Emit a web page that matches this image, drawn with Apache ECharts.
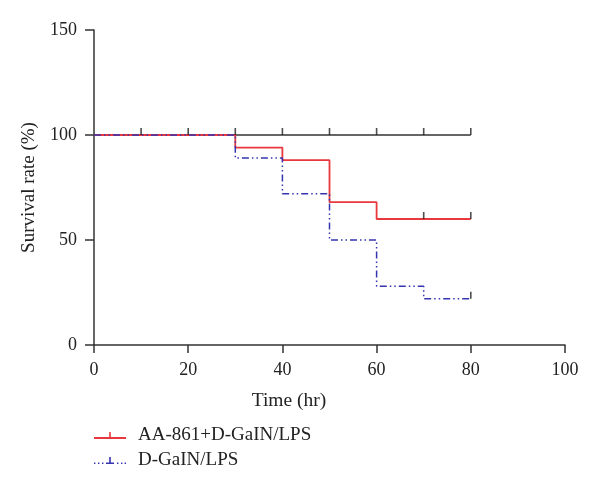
<!DOCTYPE html>
<html><head><meta charset="utf-8">
<script src="https://cdn.jsdelivr.net/npm/echarts@6/dist/echarts.min.js"></script>
<style>html,body{margin:0;padding:0;background:#fff}#c{width:600px;height:491px}</style>
</head><body><div id="c"></div>
<script>
// Data
const seriesNames = ['AA-861+D-GaIN/LPS', 'D-GaIN/LPS'];
const controlSteps = [[0,100],[80,100]];
const redSteps = [[0,100],[30,94],[40,88],[50,68],[60,60],[80,60]];
const blueSteps = [[0,100],[30,89],[40,72],[50,50],[60,28],[70,22],[80,22]];
const controlCensor = [[10,100],[20,100],[30,100],[40,100],[50,100],[60,100],[70,100],[80,100]];
const redCensor = [[70,60],[80,60]];
const blueCensor = [[80,22]];
const xTicks = [0,20,40,60,80,100];
const yTicks = [0,50,100,150];

const FONT = '"Liberation Serif", "Times New Roman", serif';
const AX = '#333';
const chart = echarts.init(document.getElementById('c'), null, {renderer:'canvas'});
const censorStyle = {type:'scatter', symbol:'rect', symbolSize:[1.6,7], symbolOffset:[0,-3.5],
  itemStyle:{color:'#222'}, silent:true, z:5};
const redIcon = 'path://M0,5h32v2h-32z M15.2,0h1.6v6h-1.6z';
const blueIcon = 'path://M0,5.4h1.4v1.6h-1.4z M4,5.4h1.4v1.6h-1.4z M8,5.4h1.4v1.6h-1.4z M12,5.4h8v1.6h-8z M15.2,0h1.6v6h-1.6z M23,5.4h1.4v1.6h-1.4z M27,5.4h1.4v1.6h-1.4z M30.6,5.4h1.4v1.6h-1.4z';
chart.setOption({
  animation:false,
  grid:{left:94, right:35, top:30, bottom:146, outerBoundsMode:'none', containLabel:false},
  xAxis:{type:'value', min:0, max:100, interval:20,
    name:'Time (hr)', nameLocation:'middle', nameGap:46,
    nameTextStyle:{fontFamily:FONT, fontSize:19.5, color:'#222', padding:[0,81,0,0]},
    axisLine:{lineStyle:{color:AX, width:1.5}},
    axisTick:{show:true, inside:false, length:8, lineStyle:{color:AX, width:1.5}},
    axisLabel:{fontFamily:FONT, fontSize:18, color:'#222', margin:16,
      formatter:v=>xTicks.includes(v)?String(v):''},
    splitLine:{show:false}},
  yAxis:{type:'value', min:0, max:150, interval:50,
    name:'Survival rate (%)', nameLocation:'middle', nameGap:55,
    nameTextStyle:{fontFamily:FONT, fontSize:19, color:'#222'},
    axisLine:{show:true, lineStyle:{color:AX, width:1.5}},
    axisTick:{show:true, inside:false, length:9, lineStyle:{color:AX, width:1.5}},
    axisLabel:{fontFamily:FONT, fontSize:18, color:'#222', margin:17,
      formatter:v=>yTicks.includes(v)?String(v):''},
    splitLine:{show:false}},
  legend:{orient:'vertical', left:94, top:426, padding:0, itemWidth:32, itemHeight:7, itemGap:6,
    data:[{name:seriesNames[0], icon:redIcon},{name:seriesNames[1], icon:blueIcon}],
    textStyle:{fontFamily:FONT, fontSize:19, color:'#222', padding:[1,0,0,7]}},
  series:[
    {name:'control', type:'line', step:'end', data:controlSteps, symbol:'none',
      lineStyle:{color:'#333', width:1.5}, z:2},
    {name:seriesNames[0], type:'line', step:'end', data:redSteps, symbol:'none',
      itemStyle:{color:'#e8383d'}, lineStyle:{color:'#e8383d', width:1.8}, z:3},
    {name:seriesNames[1], type:'line', step:'end', data:blueSteps, symbol:'none',
      itemStyle:{color:'#3535b0'}, lineStyle:{color:'#3535b0', width:1.5, type:[7,3,1.5,3,1.5,3]}, z:4},
    Object.assign({data:controlCensor}, censorStyle),
    Object.assign({data:redCensor}, censorStyle),
    Object.assign({data:blueCensor}, censorStyle)
  ]
});
</script></body></html>
